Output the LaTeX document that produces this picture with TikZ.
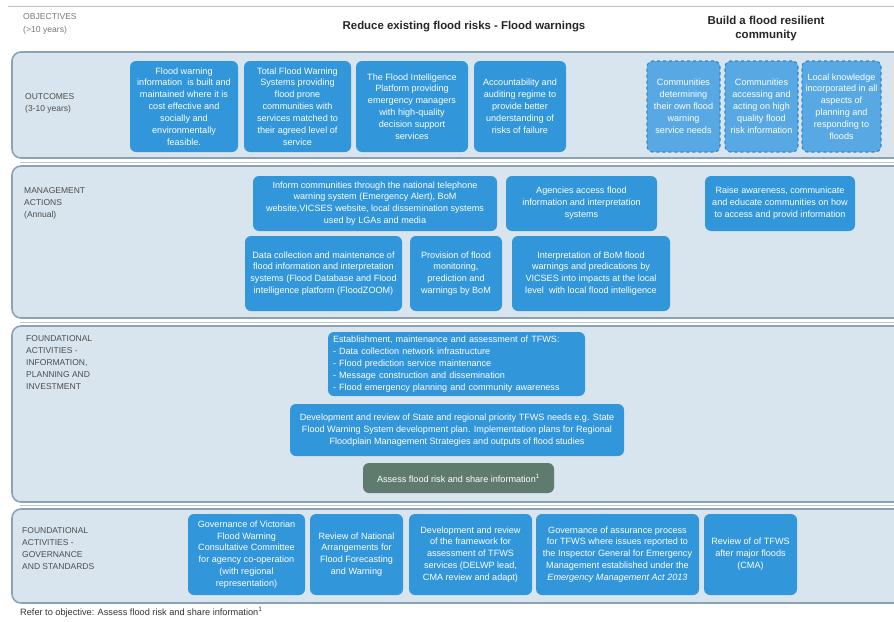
\documentclass[tikz,border=0pt]{standalone}
\usepackage{fontspec}
\setmainfont{Liberation Sans}
\definecolor{boxblue}{HTML}{3196DA}
\definecolor{lightbox}{HTML}{58A9E3}
\definecolor{dashblue}{HTML}{2F86CC}
\definecolor{panelbg}{HTML}{D9E5EE}
\definecolor{panelline}{HTML}{8BA2B6}
\definecolor{labelgray}{HTML}{4D4D4D}
\definecolor{assessgreen}{HTML}{5E7B6E}
\definecolor{objgray}{HTML}{7A7A7A}
\begin{document}
\begin{tikzpicture}[x=1pt,y=-1pt,
  panel/.style={fill=panelbg, draw=panelline, line width=1.6pt, rounded corners=9pt},
  sepline/.style={draw=panelline!60, line width=0.8pt},
  bbox/.style={fill=boxblue, rounded corners=6pt, text=white, align=center,
    font=\fontsize{9.1}{11.9}\selectfont, inner sep=1pt},
  lbox/.style={bbox, fill=lightbox, draw=dashblue, dashed, line width=1.2pt},
  gbox/.style={bbox, fill=assessgreen},
  plabel/.style={anchor=north west, align=left, text=labelgray,
    font=\fontsize{8.5}{12}\selectfont, inner sep=0pt},
]
\useasboundingbox (0,0) rectangle (894,621);
\fill[white] (0,0) rectangle (894,621);

% top rule and objectives row
\draw[sepline, draw=gray!50] (8,6) -- (894,6);
\node[plabel, text=objgray, font=\fontsize{8.6}{13.5}\selectfont] (objlab) at (23,13) {OBJECTIVES\\(>10 years)};
\node[font=\bfseries\fontsize{11.4}{13}\selectfont, text=black!85] (obj1) at (464,27) {Reduce existing flood risks - Flood warnings};
\node[font=\bfseries\fontsize{11.5}{14}\selectfont, text=black!85, align=center] (obj2) at (766,29) {Build a flood resilient\\community};

% panels
\draw[panel] (12,52) rectangle (905,158);
\draw[sepline] (20,162) -- (894,162);
\draw[panel] (12,166) rectangle (905,318);
\draw[sepline] (20,322.5) -- (894,322.5);
\draw[panel] (12,326) rectangle (905,502);
\draw[sepline] (20,505.5) -- (894,505.5);
\draw[panel] (12,509) rectangle (905,603);

% panel labels
\node[plabel] (lab1) at (25,93) {OUTCOMES\\(3-10 years)};
\node[plabel] (lab2) at (24,187) {MANAGEMENT\\ACTIONS\\(Annual)};
\node[plabel] (lab3) at (26,335) {FOUNDATIONAL\\ACTIVITIES -\\INFORMATION,\\PLANNING AND\\INVESTMENT};
\node[plabel] (lab4) at (22,527) {FOUNDATIONAL\\ACTIVITIES -\\GOVERNANCE\\AND STANDARDS};

% outcomes
\node[bbox, minimum width=108pt, minimum height=91pt] (o1) at (184,106.5) {Flood warning\\information\ \ is built and\\maintained where it is\\cost effective and\\socially and\\environmentally\\feasible.};
\node[bbox, minimum width=107pt, minimum height=91pt] (o2) at (297.5,106.5) {Total Flood Warning\\Systems providing\\flood prone\\communities with\\services matched to\\their agreed level of\\service};
\node[bbox, minimum width=112pt, minimum height=91pt] (o3) at (412,106.5) {The Flood Intelligence\\Platform providing\\emergency managers\\with high-quality\\decision support\\services};
\node[bbox, minimum width=92pt, minimum height=91pt] (o4) at (520,106.5) {Accountability and\\auditing regime to\\provide better\\understanding of\\risks of failure};
\node[lbox, minimum width=73pt, minimum height=91pt] (o5) at (683.5,106.5) {Communities\\determining\\their own flood\\warning\\service needs};
\node[lbox, minimum width=73pt, minimum height=91pt] (o6) at (761.5,106.5) {Communities\\accessing and\\acting on high\\quality flood\\risk information};
\node[lbox, minimum width=79pt, minimum height=91pt] (o7) at (841.5,106.5) {Local knowledge\\incorporated in all\\aspects of\\planning and\\responding to\\floods};

% management actions
\node[bbox, minimum width=244pt, minimum height=55pt] (m1) at (375,203.5) {Inform communities through the national telephone\\warning system (Emergency Alert), BoM\\website,VICSES website, local dissemination systems\\used by LGAs and media};
\node[bbox, minimum width=151pt, minimum height=55pt] (m2) at (581.5,203.5) {Agencies access flood\\information and interpretation\\systems};
\node[bbox, minimum width=150pt, minimum height=55pt] (m3) at (780,203.5) {Raise awareness, communicate\\and educate communities on how\\to access and provid information};
\node[bbox, minimum width=157pt, minimum height=75pt] (m4) at (323.5,273.5) {Data collection and maintenance of\\flood information and interpretation\\systems (Flood Database and Flood\\intelligence platform (FloodZOOM)};
\node[bbox, minimum width=92pt, minimum height=75pt] (m5) at (456,273.5) {Provision of flood\\monitoring,\\prediction and\\warnings by BoM};
\node[bbox, minimum width=158pt, minimum height=75pt] (m6) at (591,273.5) {Interpretation of BoM flood\\warnings and predications by\\VICSES into impacts at the local\\level\ \ with local flood intelligence};

% foundational - information
\node[bbox, align=left, text width=247pt, inner xsep=5pt, minimum height=64pt] (f1) at (456.5,364) {Establishment, maintenance and assessment of TFWS:\\- Data collection network infrastructure\\- Flood prediction service maintenance\\- Message construction and dissemination\\- Flood emergency planning and community awareness};
\node[bbox, minimum width=334pt, minimum height=52pt] (f2) at (457,430) {Development and review of State and regional priority TFWS needs e.g. State\\Flood Warning System development plan. Implementation plans for Regional\\Floodplain Management Strategies and outputs of flood studies};
\node[gbox, minimum width=191pt, minimum height=30pt] (f3) at (458.5,478) {Assess flood risk and share information\textsuperscript{1}};

% foundational - governance
\node[bbox, minimum width=117pt, minimum height=81pt] (g1) at (246.5,554.5) {Governance of Victorian\\Flood Warning\\Consultative Committee\\for agency co-operation\\(with regional\\representation)};
\node[bbox, minimum width=93pt, minimum height=81pt] (g2) at (356.5,554.5) {Review of National\\Arrangements for\\Flood Forecasting\\and Warning};
\node[bbox, minimum width=123pt, minimum height=81pt] (g3) at (470.5,554.5) {Development and review\\of the framework for\\assessment of TFWS\\services (DELWP lead,\\CMA review and adapt)};
\node[bbox, minimum width=163pt, minimum height=81pt] (g4) at (617.5,554.5) {Governance of assurance process\\for TFWS where issues reported to\\the Inspector General for Emergency\\Management established under the\\\textit{Emergency Management Act 2013}};
\node[bbox, minimum width=93pt, minimum height=81pt] (g5) at (750.5,554.5) {Review of of TFWS\\after major floods\\(CMA)};

% footnote
\node[anchor=west, inner sep=0pt, text=black!80, font=\fontsize{9.2}{11}\selectfont] (foot) at (20,612) {Refer to objective: Assess flood risk and share information\textsuperscript{1}};
\end{tikzpicture}
\end{document}
